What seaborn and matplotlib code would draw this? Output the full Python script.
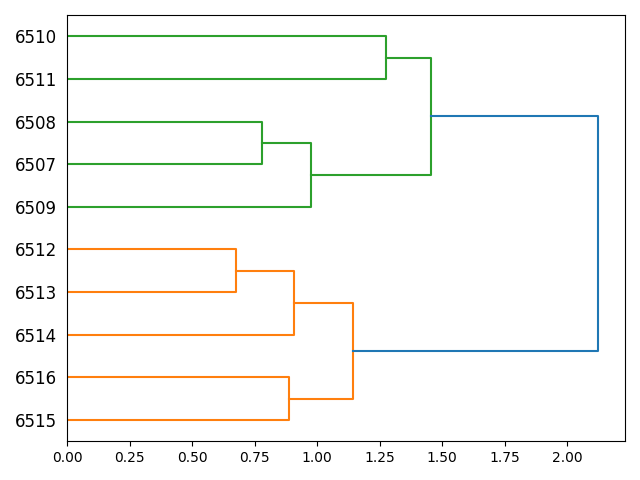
import numpy as np
import matplotlib
matplotlib.use('Agg')
import matplotlib.pyplot as plt
import seaborn as sns

# leaf labels (original observation ids)
leaves = ['6507', '6508', '6509', '6510', '6511', '6512', '6513', '6514', '6515', '6516']

# linkage, scipy style: new cluster ids start at len(leaves)
merge_left = [6, 7, 8, 12, 0, 2, 4, 15, 13]
merge_right = [5, 10, 9, 11, 1, 14, 3, 16, 17]
merge_height = [0.676, 0.908, 0.888, 1.144, 0.78, 0.976, 1.276, 1.456, 2.124]

palette = sns.color_palette('tab10')
n = len(leaves)
root = n + len(merge_height) - 1
threshold = 0.7 * max(merge_height)

# walk the tree to get leaf order (bottom to top) and positions
order = []
pos = {}
def walk(node):
    if node < n:
        pos[node] = 5 + 10 * len(order)
        order.append(node)
        return
    i = node - n
    walk(merge_left[i])
    walk(merge_right[i])
    pos[node] = (pos[merge_left[i]] + pos[merge_right[i]]) / 2

walk(root)

def height(node):
    return 0.0 if node < n else merge_height[node - n]

# assign colours to clusters under the threshold
color = {}
next_col = [1]
def paint(node, col):
    if node < n:
        return
    i = node - n
    if col is None and merge_height[i] < threshold:
        col = palette[next_col[0]]
        next_col[0] += 1
    color[node] = col if col is not None else palette[0]
    paint(merge_left[i], col)
    paint(merge_right[i], col)

# paint bottom subtree first so it gets orange, like scipy
paint(root, None)

fig, ax = plt.subplots(figsize=(6.4, 4.8))
for i, h in enumerate(merge_height):
    node = n + i
    a, b = merge_left[i], merge_right[i]
    xs = [height(a), h, h, height(b)]
    ys = [pos[a], pos[a], pos[b], pos[b]]
    ax.plot(xs, ys, color=color[node], linewidth=1.5)

ax.set_ylim(0, 10 * n)
ax.set_xlim(0, max(merge_height) * 1.05)
ax.set_yticks([pos[k] for k in order])
ax.set_yticklabels([leaves[k] for k in order], fontsize=12)
# hide the tick marks but keep their spacing
for line in ax.get_yticklines():
    line.set_visible(False)
plt.tight_layout()
plt.savefig('out.png', dpi=100)
